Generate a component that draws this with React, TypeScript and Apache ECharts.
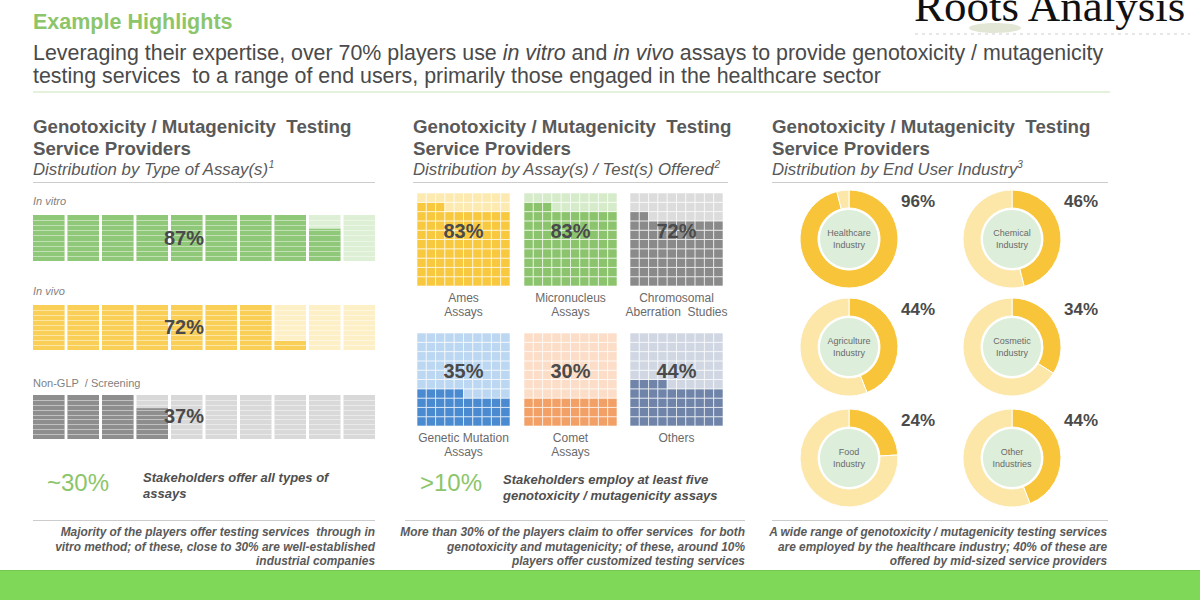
import React, { useEffect, useRef } from "react";
import * as echarts from "echarts";

// ---------- DATA ----------
const assayTypes = ["In vitro", "In vivo", "Non-GLP  / Screening"];
const assayTypeValues = [87, 72, 37];

const assayTests = [
  "Ames\nAssays",
  "Micronucleus\nAssays",
  "Chromosomal\nAberration  Studies",
  "Genetic Mutation\nAssays",
  "Comet\nAssays",
  "Others",
];
const assayTestValues = [83, 83, 72, 35, 30, 44];

const industries = [
  "Healthcare\nIndustry",
  "Chemical\nIndustry",
  "Agriculture\nIndustry",
  "Cosmetic\nIndustry",
  "Food\nIndustry",
  "Other\nIndustries",
];
const industryValues = [96, 46, 44, 34, 24, 44];

const panelTitle = "Genotoxicity / Mutagenicity  Testing\nService Providers";
const panelSubtitles = [
  "Distribution by Type of Assay(s){s|1}",
  "Distribution by Assay(s) / Test(s) Offered{s|2}",
  "Distribution by End User Industry{s|3}",
];
const highlights = ["~30%", ">10%"];
const highlightTexts = [
  "Stakeholders offer all types of\nassays",
  "Stakeholders employ at least five\ngenotoxicity / mutagenicity assays",
];
const footnotes = [
  "Majority of the players offer testing services  through in\nvitro method; of these, close to 30% are well-established\nindustrial companies",
  "More than 30% of the players claim to offer services  for both\ngenotoxicity and mutagenicity; of these, around 10%\nplayers offer customized testing services",
  "A wide range of genotoxicity / mutagenicity testing services\nare employed by the healthcare industry; 40% of these are\noffered by mid-sized service providers",
];

// ---------- LAYOUT / STYLE ----------
const FONT = "'Liberation Sans', Arial, Helvetica, sans-serif";
const TXT = "#595959";
const barLayout = [
  { top: 215, height: 46, labelY: 201, pctY: 238 },
  { top: 305, height: 45, labelY: 291, pctY: 327 },
  { top: 395, height: 44, labelY: 383, pctY: 416 },
];
const barColors = [
  ["#8FC878", "#DDEFD4"],
  ["#F9CF57", "#FDEFC6"],
  ["#8E8E8E", "#D9D9D9"],
];
const waffleLayout = [
  { left: 417, top: 193 },
  { left: 524, top: 193 },
  { left: 630, top: 193 },
  { left: 417, top: 333 },
  { left: 524, top: 333 },
  { left: 630, top: 333 },
];
const WSIZE = 93;
const waffleColors = [
  ["#F8C93F", "#FCEAB0"],
  ["#8CC46E", "#D5EBC9"],
  ["#8A8A8A", "#DCDCDC"],
  ["#4A8AD0", "#BCD7F1"],
  ["#F2A065", "#FCDDC7"],
  ["#6F84A8", "#D0D7E3"],
];
const donutCenters = [
  [849, 239],
  [1012, 239],
  [849, 347],
  [1012, 347],
  [849, 458],
  [1012, 458],
];
const panelX = [33, 413, 772];
const panelRight = [375, 728, 1108];

export default function App() {
  const ref = useRef<HTMLDivElement>(null);

  useEffect(() => {
    const chart = echarts.init(ref.current!, null, { renderer: "svg" });

    const grids: any[] = [];
    const xAxes: any[] = [];
    const yAxes: any[] = [];
    const series: any[] = [];
    const graphics: any[] = [];

    // ----- Left panel: striped block bars -----
    assayTypeValues.forEach((v, i) => {
      const L = barLayout[i];
      grids.push({ left: 33, width: 345, top: L.top, height: L.height });
      xAxes.push({ gridIndex: grids.length - 1, type: "value", min: 0, max: 10, show: false });
      yAxes.push({ gridIndex: grids.length - 1, type: "value", min: 0, max: 1, show: false });
      const data = Array.from({ length: 10 }, (_, k) => [k, Math.max(0, Math.min(1, v / 10 - k))]);
      const [dark, light] = barColors[i];
      series.push({
        type: "custom",
        xAxisIndex: grids.length - 1,
        yAxisIndex: grids.length - 1,
        silent: true,
        z: 1,
        data,
        renderItem: (params: any, api: any) => {
          const k = api.value(0);
          const f = api.value(1);
          const p0 = api.coord([k, 0]);
          const p1 = api.coord([k + 1, 1]);
          const x = p0[0];
          const w = p1[0] - p0[0] - 3;
          const yb = p0[1];
          const yt = p1[1];
          const h = yb - yt;
          const children: any[] = [
            { type: "rect", shape: { x, y: yt, width: w, height: h }, style: { fill: light } },
            { type: "rect", shape: { x, y: yb - h * f, width: w, height: h * f }, style: { fill: dark } },
          ];
          for (let s = 1; s < 9; s++) {
            const yy = Math.round(yt + (h * s) / 9) + 0.5;
            children.push({
              type: "line",
              shape: { x1: x, y1: yy, x2: x + w, y2: yy },
              style: { stroke: "rgba(255,255,255,0.45)", lineWidth: 1 },
            });
          }
          return { type: "group", children };
        },
      });
      graphics.push({
        type: "text",
        x: 33,
        y: L.labelY,
        style: {
          text: assayTypes[i],
          font: `${i < 2 ? "italic " : ""}11px ${FONT}`,
          fill: "#7f7f7f",
          textVerticalAlign: "middle",
          verticalAlign: "middle",
        },
      });
      graphics.push({
        type: "text",
        z: 100,
        x: 184,
        y: L.pctY,
        style: {
          text: v + "%",
          font: `bold 20px ${FONT}`,
          fill: "#4a4a4a",
          textAlign: "center",
          align: "center",
          textVerticalAlign: "middle",
          verticalAlign: "middle",
        },
      });
    });

    // ----- Middle panel: 10x10 waffles -----
    assayTestValues.forEach((v, i) => {
      const L = waffleLayout[i];
      grids.push({ left: L.left, top: L.top, width: WSIZE, height: WSIZE });
      xAxes.push({ gridIndex: grids.length - 1, type: "value", min: 0, max: 10, show: false });
      yAxes.push({ gridIndex: grids.length - 1, type: "value", min: 0, max: 10, show: false });
      const data: number[][] = [];
      for (let r = 0; r < 10; r++)
        for (let c = 0; c < 10; c++) data.push([c, r, r * 10 + c < v ? 1 : 0]);
      const [dark, light] = waffleColors[i];
      series.push({
        type: "custom",
        xAxisIndex: grids.length - 1,
        yAxisIndex: grids.length - 1,
        silent: true,
        z: 1,
        data,
        renderItem: (params: any, api: any) => {
          const c = api.value(0);
          const r = api.value(1);
          const on = api.value(2);
          const p0 = api.coord([c, r]);
          const p1 = api.coord([c + 1, r + 1]);
          return {
            type: "rect",
            shape: { x: p0[0], y: p1[1], width: p1[0] - p0[0], height: p0[1] - p1[1] },
            style: { fill: on ? dark : light, stroke: "rgba(255,255,255,0.6)", lineWidth: 1 },
          };
        },
      });
      graphics.push({
        type: "text",
        z: 100,
        x: L.left + WSIZE / 2,
        y: L.top + 38,
        style: {
          text: v + "%",
          font: `bold 20px ${FONT}`,
          fill: "#4a4a4a",
          textAlign: "center",
          align: "center",
          textVerticalAlign: "middle",
          verticalAlign: "middle",
        },
      });
      graphics.push({
        type: "text",
        x: L.left + WSIZE / 2,
        y: L.top + 98,
        style: {
          text: assayTests[i],
          font: `12px ${FONT}`,
          lineHeight: 14,
          fill: "#6a6a6a",
          textAlign: "center",
          align: "center",
          textVerticalAlign: "top",
          verticalAlign: "top",
        },
      });
    });

    // ----- Right panel: donuts -----
    industryValues.forEach((v, i) => {
      const [cx, cy] = donutCenters[i];
      series.push({
        type: "pie",
        silent: true,
        center: [cx, cy],
        radius: [31, 49],
        startAngle: 90,
        clockwise: true,
        label: { show: false },
        labelLine: { show: false },
        itemStyle: { borderColor: "#fff", borderWidth: 1 },
        data: [
          { name: industries[i], value: v, itemStyle: { color: "#F8C53A" } },
          { name: "rest", value: 100 - v, itemStyle: { color: "#FCE7A9" } },
        ],
      });
      series.push({
        type: "pie",
        silent: true,
        center: [cx, cy],
        radius: [0, 29],
        label: {
          show: true,
          position: "center",
          formatter: "{b}",
          fontSize: 9,
          lineHeight: 12,
          color: "#6a6a6a",
          fontFamily: FONT,
        },
        labelLine: { show: false },
        data: [{ name: industries[i], value: 1, itemStyle: { color: "#DDEEDA" } }],
      });
      graphics.push({
        type: "text",
        z: 100,
        x: cx + 69,
        y: cy - 38,
        style: {
          text: v + "%",
          font: `bold 17px ${FONT}`,
          fill: "#4a4a4a",
          textAlign: "center",
          align: "center",
          textVerticalAlign: "middle",
          verticalAlign: "middle",
        },
      });
    });

    // ----- Header -----
    graphics.push({
      type: "text",
      x: 33,
      y: 22,
      style: {
        text: "Example Highlights",
        font: `bold 21.5px ${FONT}`,
        fill: "#8CC56A",
        textVerticalAlign: "middle",
        verticalAlign: "middle",
      },
    });
    graphics.push({
      type: "text",
      x: 33,
      y: 41,
      style: {
        text:
          "Leveraging their expertise, over 70% players use {i|in vitro} and {i|in vivo} assays to provide genotoxicity / mutagenicity\ntesting services  to a range of end users, primarily those engaged in the healthcare sector",
        fontSize: 21.4,
        fontFamily: FONT,
        lineHeight: 23,
        fill: "#4a4a4a",
        rich: {
          i: { fontStyle: "italic", fontSize: 21.4, fontFamily: FONT, fill: "#4a4a4a", lineHeight: 23 },
        },
        textVerticalAlign: "top",
        verticalAlign: "top",
      },
    });
    graphics.push({
      type: "line",
      shape: { x1: 33, y1: 92, x2: 1110, y2: 92 },
      style: { stroke: "#C9E3B8", lineWidth: 1 },
    });

    // Logo
    graphics.push({
      type: "text",
      x: 914,
      y: 6,
      style: {
        text: "Roots Analysis",
        font: `45px 'Liberation Serif', 'Times New Roman', serif`,
        fill: "#111",
        textVerticalAlign: "middle",
        verticalAlign: "middle",
      },
    });
    graphics.push({
      type: "ellipse",
      shape: { cx: 995, cy: 28, rx: 26, ry: 5 },
      style: { fill: "rgba(190,200,160,0.45)" },
    });
    graphics.push({
      type: "line",
      shape: { x1: 915, y1: 34, x2: 1190, y2: 34 },
      style: { stroke: "#cfcfcf", lineWidth: 1, lineDash: [3, 4] },
    });

    // Panel headers, separators, footnotes
    [0, 1, 2].forEach((p) => {
      const x = panelX[p];
      graphics.push({
        type: "text",
        x,
        y: 115,
        style: {
          text: panelTitle,
          font: `bold 18.7px ${FONT}`,
          lineHeight: 22,
          fill: TXT,
          textVerticalAlign: "top",
          verticalAlign: "top",
        },
      });
      graphics.push({
        type: "text",
        x,
        y: 169,
        style: {
          text: panelSubtitles[p],
          fontSize: 16.8,
          fontStyle: "italic",
          fontFamily: FONT,
          fill: TXT,
          lineHeight: 19,
          rich: {
            s: { fontSize: 10, fontStyle: "italic", fontFamily: FONT, fill: TXT, verticalAlign: "top", lineHeight: 19 },
          },
          textVerticalAlign: "middle",
          verticalAlign: "middle",
        },
      });
      graphics.push({
        type: "line",
        shape: { x1: x, y1: 182.5, x2: panelRight[p], y2: 182.5 },
        style: { stroke: "#cccccc", lineWidth: 1 },
      });
      graphics.push({
        type: "line",
        shape: { x1: p === 1 ? 405 : x, y1: 520.5, x2: panelRight[p] + (p === 1 ? 17 : 0), y2: 520.5 },
        style: { stroke: "#cccccc", lineWidth: 1 },
      });
      graphics.push({
        type: "text",
        x: p === 0 ? 375 : p === 1 ? 745 : 1107,
        y: 525,
        style: {
          text: footnotes[p],
          font: `italic bold 11.9px ${FONT}`,
          lineHeight: 14.5,
          fill: "#5a5a5a",
          textAlign: "right",
          align: "right",
          textVerticalAlign: "top",
          verticalAlign: "top",
        },
      });
    });

    // Highlights
    [
      { x: 47, tx: 143, ty: 469 },
      { x: 420, tx: 503, ty: 471 },
    ].forEach((h, k) => {
      graphics.push({
        type: "text",
        x: h.x,
        y: 482,
        style: {
          text: highlights[k],
          font: `24px ${FONT}`,
          fill: "#8CC56A",
          textVerticalAlign: "middle",
          verticalAlign: "middle",
        },
      });
      graphics.push({
        type: "text",
        x: h.tx,
        y: h.ty,
        style: {
          text: highlightTexts[k],
          font: `italic bold 13px ${FONT}`,
          lineHeight: 16,
          fill: "#4f4f4f",
          textVerticalAlign: "top",
          verticalAlign: "top",
        },
      });
    });

    // Bottom band
    graphics.push({
      type: "rect",
      shape: { x: 0, y: 570, width: 1200, height: 30 },
      style: { fill: "#7FD858" },
    });
    graphics.push({
      type: "line",
      shape: { x1: 0, y1: 570.5, x2: 1200, y2: 570.5 },
      style: { stroke: "#72C84E", lineWidth: 1 },
    });

    const option: any = {
      animation: false,
      backgroundColor: "#ffffff",
      grid: grids,
      xAxis: xAxes,
      yAxis: yAxes,
      series,
      graphic: { elements: graphics },
    };
    chart.setOption(option);
    return () => chart.dispose();
  }, []);

  return (
    <div
      ref={ref}
      style={{ position: "absolute", left: 0, top: 0, width: 1200, height: 600, background: "#fff" }}
    />
  );
}
